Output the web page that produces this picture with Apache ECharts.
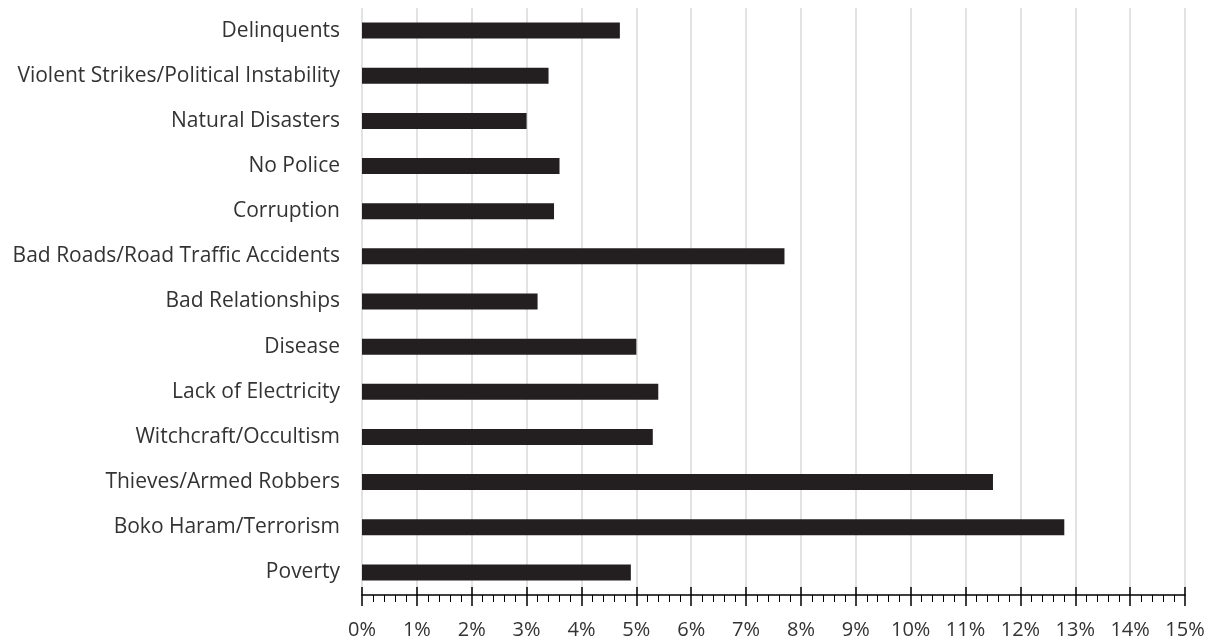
<!DOCTYPE html>
<html>
<head>
<meta charset="utf-8">
<script src="https://cdn.jsdelivr.net/npm/echarts@6/dist/echarts.min.js"></script>
<style>html,body{margin:0;padding:0;background:#fff}#c{width:1209px;height:642px}</style>
</head>
<body>
<div id="c"></div>
<script>
const categories = ["Poverty","Boko Haram/Terrorism","Thieves/Armed Robbers","Witchcraft/Occultism","Lack of Electricity","Disease","Bad Relationships","Bad Roads/Road Traffic Accidents","Corruption","No Police","Natural Disasters","Violent Strikes/Political Instability","Delinquents"];
const values = [4.9, 12.8, 11.5, 5.3, 5.4, 5.0, 3.2, 7.7, 3.5, 3.6, 3.0, 3.4, 4.7];
const FONT = "Open Sans";
const chart = echarts.init(document.getElementById('c'));
chart.setOption({
  animation: false,
  grid: {left: 362, right: 24, top: 8, bottom: 47, containLabel: false},
  xAxis: [{
    type: 'value', min: 0, max: 15, interval: 1,
    axisLine: {show: true, lineStyle: {color: '#000', width: 1.5}},
    axisTick: {show: true, length: 11, lineStyle: {color: '#000', width: 1.5}},
    minorTick: {show: true, splitNumber: 5, length: 7, lineStyle: {color: '#000', width: 1}},
    splitLine: {show: true, lineStyle: {color: '#d9d9d9', width: 1.5}},
    axisLabel: {color: '#333', fontFamily: FONT, fontSize: 20, margin: 25, formatter: v => v + '%'}
  },{
    type: 'value', min: 0, max: 15, interval: 1, position: 'bottom',
    axisLine: {show: false},
    axisTick: {show: true, inside: true, length: 8, lineStyle: {color: '#000', width: 1.5}},
    splitLine: {show: false}, axisLabel: {show: false}
  }],
  yAxis: {
    type: 'category', data: categories,
    axisLine: {show: false}, axisTick: {show: false},
    axisLabel: {color: '#333', fontFamily: FONT, fontSize: 21, margin: 22}
  },
  series: [{
    type: 'bar', data: values, barWidth: 16, xAxisIndex: 0,
    itemStyle: {color: '#231f20'}
  }]
});
</script>
</body>
</html>
